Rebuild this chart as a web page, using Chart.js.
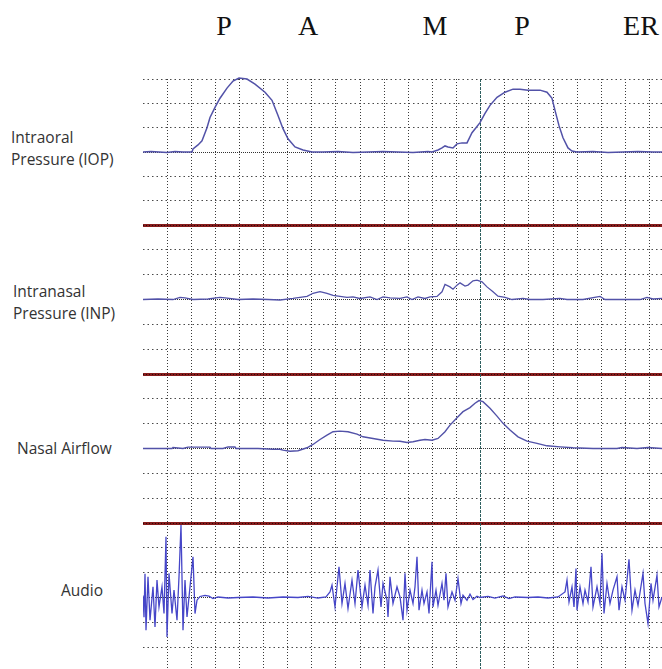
<!DOCTYPE html>
<html>
<head>
<meta charset="utf-8">
<script src="https://cdn.jsdelivr.net/npm/chart.js@4.4.1/dist/chart.umd.min.js"></script>
<style>
  html, body { margin: 0; padding: 0; width: 662px; height: 669px; overflow: hidden; background: #fff; }
  .panel { position: absolute; left: 143px; width: 519px; }
  .lbl { position: absolute; font-family: "Open Sans", sans-serif; font-size: 15.5px; line-height: 22px; color: #333; white-space: nowrap; }
  .phon { position: absolute; top: 12px; font-family: "Liberation Serif", serif; font-size: 28px; line-height: 28px; color: #111; transform: translateX(-50%); }
</style>
</head>
<body>

<div class="phon" style="left:224px">P</div>
<div class="phon" style="left:308px">A</div>
<div class="phon" style="left:435px">M</div>
<div class="phon" style="left:522px">P</div>
<div class="phon" style="left:641px">ER</div>

<div class="lbl" style="left:11px; top:126px">Intraoral<br>Pressure (IOP)</div>
<div class="lbl" style="left:13px; top:280px">Intranasal<br>Pressure (INP)</div>
<div class="lbl" style="left:17px; top:437px">Nasal Airflow</div>
<div class="lbl" style="left:61px; top:579px">Audio</div>

<div class="panel" style="top:75px; height:154px"><canvas id="cIop"></canvas></div>
<div class="panel" style="top:221px; height:157px"><canvas id="cInp"></canvas></div>
<div class="panel" style="top:370px; height:157px"><canvas id="cNaf"></canvas></div>
<div class="panel" style="top:519px; height:157px"><canvas id="cAud"></canvas></div>

<script>
// time in samples (24.12 per grid division), amplitude in 1/24 of a division
const DIV = 24.12;
const T_MAX = 519;
const MARKER_DIV = 14;   // darker vertical marker line

const iopT = [0,8,16,24,32,40,49,50,55,59,64,67,72,77,84,90,96,104,112,122,129,135,140,145,152,160,169,
  180,195,210,225,240,255,270,285,289,295,299,302,305,310,314,319,324,329,333,337,342,347,354,362,370,377,
  385,397,404,409,412,416,420,425,429,434,450,465,480,495,510,519];
const iopV = [0,0.5,0,-0.5,0.5,0,0,3,7,11,24,34,44,53,63,70,73,72,67,59,51,36,23,13,5,2,0,
  0,0.5,-0.5,0,0.5,0,-0.5,0.5,0,2,4,6,5,4,8,9,9,19,24,29,38,46,54,59,62,62,
  61,61,59,53,41,26,14,4,1,0,0.5,-0.5,0,0.5,0,0];

const inpT = [0,15,30,37,42,50,65,77,82,95,110,125,137,150,164,170,177,184,190,197,
  204,210,217,227,234,240,247,257,264,269,275,282,287,294,299,302,307,310,314,317,
  322,325,330,334,339,344,350,355,362,369,380,387,400,417,424,440,457,462,480,497,504,510,519];
const inpV = [0,0.5,0,2,1.5,0,0.5,2,1.5,0,0.5,0,-0.5,1,3,6,7.5,6,4,3,
  2,2.5,1,2.5,0,2.5,1.5,1,2.5,0,2.5,1,2.5,3,7.4,14.5,12.2,10,13.9,16.1,
  12.9,13.9,18,18.7,17,12.2,7.4,3.2,2,0,1,0,0,1,0,0,3,0,0,0,2,0.5,1];

const nafT = [0,20,29,30,40,45,55,67,68,80,85,92,93,105,115,130,137,140,147,155,
  164,170,177,184,190,197,205,214,220,230,240,250,257,264,270,277,282,289,295,302,
  307,314,320,327,332,336,340,347,354,360,367,375,384,394,404,417,430,450,474,479,494,505,519];
const nafV = [0,0,0,1,0,1.3,1.3,1.3,0,0,1.5,1.5,0,0,0,-0.7,-0.7,-1.6,-2.6,-2.2,
  0.7,3.9,8.7,12.9,16.2,16.8,16.2,13.9,11.3,9.7,8,7.1,7,5.8,6.5,8,8.7,8,9.7,16.2,
  22.6,29.8,35.6,39.5,43.7,46.3,45.3,38.8,31.3,24.3,17.8,11.3,7.1,4.9,2.6,1.6,0.7,0,0,1,0,1,0];

const audT = [0,1,2,3,5,7,10,12,14,16,19,21,23,24,26,29,31,34,36,38,40,42,44,47,50,52,54,
  57,62,66,70,75,85,95,110,125,140,155,165,175,183,
  187,189,192,196,199,202,205,209,212,215,219,222,225,227,230,232,235,238,240,244,245,247,250,254,
  257,260,262,264,267,270,272,274,276,279,281,284,286,289,290,293,295,299,301,303,305,309,312,315,
  318,320,324,327,330,334,337,
  345,352,360,366,372,385,395,405,415,
  422,424,426,429,431,433,434,437,440,442,445,448,450,454,457,459,461,464,467,470,474,476,479,482,
  486,489,492,495,500,502,505,508,510,514,516,519];
const audV = [2,-19,23,-31.7,20,-22,10.3,-28.5,16.8,-9.1,10.3,-15.5,58.8,-38.2,23.3,-15.5,7.1,-22,20,70.1,-31.7,16.8,-18.8,10.3,39.4,-15.5,-2.6,
  1,2,1.3,-1,0.5,-0.5,0,0.5,-0.5,0.5,0,1,-0.5,0.5,
  5.4,11.9,-9.1,29.7,-5.8,13.6,-10.7,16.8,-5.8,26.5,-9.1,11.9,-7.5,26.5,-15.5,10.3,26.5,-9.1,13.6,-2.6,-18.8,20,-5.8,10.3,
  0.6,-22,23.3,-12.3,7.1,-5.8,10.3,39.4,-12.3,7.1,-5.8,5.4,-15.5,34.5,-9.1,7.1,-7.5,13.6,-2.6,23.3,-9.1,5.4,-2.6,18.4,
  -5.8,2.2,-2.6,3.2,-1.9,1.3,0,
  1,-0.5,1.5,-1,0.5,0,0.5,-0.5,0.5,
  5.4,16.8,-4.3,10.3,-9.1,28.1,-12.3,10.3,-5.8,7.1,-4.3,29.7,-9.1,10.3,-5.8,42.7,-15.5,13.6,-5.8,7.1,20,-12.3,10.3,-2.6,
  36.9,-12.3,7.1,-7.5,23.3,-5.8,-25.2,13.6,-2.6,21.6,-9.1,0.6];

const RED = '#861c1c';

// redBottom: panel ends with the red separator; redTop: dotted line laid over the separator above
function makePanel(id, t, v, color, width, redBottom, redTop) {
  const pts = t.map((x, i) => ({ x: x, y: v[i] }));
  const isRed = c => redBottom && c.index === 0;
  const isOverRed = c => redTop && c.index === 6;
  return new Chart(document.getElementById(id), {
    type: 'line',
    data: { datasets: [{ data: pts, borderColor: color, borderWidth: width, pointRadius: 0, tension: 0, clip: false }] },
    options: {
      responsive: true,
      maintainAspectRatio: false,
      animation: false,
      layout: { padding: { top: 4, bottom: 4, left: 0, right: 0 } },
      plugins: { legend: { display: false }, tooltip: { enabled: false } },
      scales: {
        x: {
          type: 'linear', min: 0, max: T_MAX,
          afterBuildTicks: ax => {
            ax.ticks = [];
            for (let k = 1; k * DIV < T_MAX; k++) ax.ticks.push({ value: k * DIV });
          },
          ticks: { display: false },
          grid: {
            drawTicks: false,
            lineWidth: 1,
            color: c => c.index === MARKER_DIV - 1 ? '#2d5f5f' : '#3a3a3a'
          },
          border: { display: false, dash: c => c.index === MARKER_DIV - 1 ? [3, 1] : [1, 2] }
        },
        y: {
          min: -72, max: 72,
          afterBuildTicks: ax => {
            ax.ticks = [];
            for (let k = -3; k <= 3; k++) ax.ticks.push({ value: k * 24 });
          },
          ticks: { display: false },
          grid: {
            drawTicks: false,
            lineWidth: c => isRed(c) ? 3 : 1,
            color: c => isRed(c) ? RED : (isOverRed(c) ? '#2a0a0a' : (c.index === 3 ? '#333' : '#4a4a4a'))
          },
          border: {
            display: false,
            dash: c => isRed(c) ? [] : (isOverRed(c) ? [1, 2] : (c.index === 3 ? [1, 1] : [1.5, 3]))
          }
        }
      }
    }
  });
}

makePanel('cIop', iopT, iopV, '#5252a8', 1.5, true, false);
makePanel('cInp', inpT, inpV, '#5252a8', 1.3, true, true);
makePanel('cNaf', nafT, nafV, '#5252a8', 1.4, true, true);
makePanel('cAud', audT, audV, '#4646c8', 1.3, false, true);
</script>
</body>
</html>
